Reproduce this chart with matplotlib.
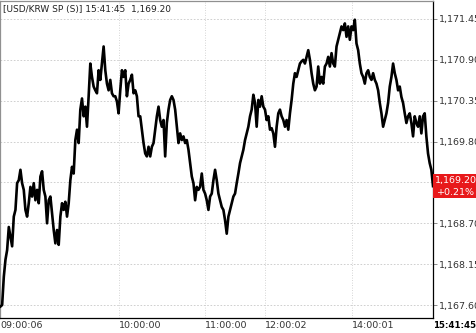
import matplotlib
matplotlib.use("Agg")
import matplotlib.pyplot as plt
from matplotlib.patches import Rectangle
import matplotlib.transforms as mtransforms
import numpy as np

# USD/KRW spot ticks (one value per ~1.7 px column)
morning = [
    1167.58, 1167.60, 1167.98, 1168.21, 1168.34, 1168.65, 1168.52, 1168.39, 1168.79, 1168.88,
    1169.24, 1169.28, 1169.42, 1169.24, 1169.15, 1168.88, 1168.79, 1168.97, 1169.19, 1169.06,
    1169.24, 1169.01, 1169.15, 1168.97, 1169.33, 1169.40, 1169.15, 1169.06, 1168.70, 1169.01,
    1169.06, 1168.83, 1168.61, 1168.43, 1168.61, 1168.41, 1168.79, 1168.97, 1168.88, 1168.99,
    1168.79, 1168.97, 1169.28, 1169.46, 1169.37, 1169.82, 1169.96, 1169.78, 1170.23, 1170.38,
    1170.14, 1170.27, 1170.00, 1170.41, 1170.85, 1170.67, 1170.54, 1170.49, 1170.45, 1170.76,
    1170.63, 1170.85, 1171.08, 1170.76, 1170.58, 1170.49, 1170.63, 1170.45, 1170.41, 1170.41,
    1170.34, 1170.18, 1170.49, 1170.76, 1170.67, 1170.76, 1170.41, 1170.58, 1170.63, 1170.70,
    1170.45, 1170.49, 1170.41, 1170.14,
]
midday = [
    1170.14, 1169.96, 1169.78, 1169.64, 1169.60, 1169.73, 1169.60, 1169.73, 1169.78, 1169.96,
    1170.14, 1170.27, 1170.09, 1170.00, 1170.09, 1169.60, 1170.05, 1170.23, 1170.36, 1170.41,
    1170.36, 1170.23, 1170.00, 1169.78, 1169.91, 1169.82, 1169.87, 1169.78, 1169.82, 1169.69,
    1169.51, 1169.33, 1169.24, 1169.01, 1169.19, 1169.15, 1169.19, 1169.37, 1169.15, 1169.10,
    1169.01, 1168.88, 1169.06, 1169.10, 1169.28, 1169.42, 1169.28, 1169.10, 1169.01, 1168.92,
    1168.88, 1168.74, 1168.56, 1168.79, 1168.88, 1168.97, 1169.06, 1169.10, 1169.24, 1169.37,
    1169.51, 1169.60, 1169.69, 1169.82, 1169.91, 1170.00, 1170.14, 1170.23, 1170.43, 1170.32,
    1170.00, 1170.36, 1170.27, 1170.41, 1170.27, 1170.23, 1170.09, 1170.14, 1169.96, 1169.98,
    1169.91, 1169.73, 1170.00, 1170.18,
]
afternoon = [
    1170.23, 1170.14, 1170.09, 1170.00, 1170.09, 1169.96, 1170.18, 1170.36, 1170.58, 1170.72,
    1170.67, 1170.76, 1170.85, 1170.88, 1170.90, 1170.85, 1170.94, 1171.03, 1170.90, 1170.72,
    1170.58, 1170.49, 1170.54, 1170.81, 1170.58, 1170.67, 1170.58, 1170.81, 1170.85, 1170.94,
    1170.81, 1170.99, 1170.85, 1170.81, 1171.08, 1171.17, 1171.26, 1171.35, 1171.30, 1171.39,
    1171.21, 1171.35, 1171.17, 1171.35, 1171.30, 1171.44, 1171.12, 1171.03, 1170.85, 1170.72,
    1170.67, 1170.58, 1170.72, 1170.76, 1170.67, 1170.63, 1170.72, 1170.63, 1170.58, 1170.49,
    1170.32, 1170.18, 1170.00, 1170.09, 1170.18, 1170.32, 1170.54, 1170.67, 1170.85, 1170.72,
    1170.63, 1170.49, 1170.54, 1170.40, 1170.32, 1170.18, 1170.05, 1170.14, 1170.18, 1170.05,
    1169.87, 1170.14, 1170.05, 1170.00, 1170.14, 1169.91, 1170.14, 1170.18, 1169.87, 1169.64,
    1169.51, 1169.42, 1169.20,
]

time_labels = ["09:00:06", "10:00:00", "11:00:00", "12:00:02", "14:00:01", "15:41:45"]
time_idx = [0, 71, 123, 159, 211, 260]   # sample index where each time falls
price_ticks = [1167.60, 1168.15, 1168.70, 1169.25, 1169.80, 1170.35, 1170.90, 1171.45]
change_pct = 0.21
title = "[USD/KRW SP (S)] 15:41:45  1,169.20"

prices = np.array(morning + midday + afternoon)
idx = np.arange(len(prices))
last = prices[-1]

plt.rcParams['font.family'] = ['DejaVu Sans']

fig = plt.figure(figsize=(4.77, 3.33), dpi=100)
ax = fig.add_axes([0.001, 0.045, 0.9068, 0.952])

ax.plot(idx, prices, color='black', lw=1.9, zorder=3)

ax.set_xlim(0, 260)
ax.set_ylim(1167.425, 1171.692)

# grid
for p in price_ticks:
    ax.axhline(p, color='#c8c8c8', lw=0.6, ls=(0, (2, 2)), zorder=1)
for t in time_idx[1:-1]:
    ax.axvline(t, color='#c8c8c8', lw=0.6, ls=(0, (1, 2)), zorder=1)

# spines
ax.spines['left'].set_color('#909090')
ax.spines['top'].set_color('#909090')
ax.spines['right'].set_color('black')
ax.spines['bottom'].set_color('black')
for s in ax.spines.values():
    s.set_linewidth(0.9)

# y axis on the right; the label under the last-price box is hidden
ax.yaxis.tick_right()
ax.set_yticks(price_ticks)
ax.set_yticklabels(["" if abs(p - last) < 0.2 else f"{p:,.2f}" for p in price_ticks])
ax.tick_params(axis='y', length=3, width=0.6, color='#777777', pad=1,
               labelsize=6.8, labelcolor='#333333')

# x axis
ax.set_xticks(time_idx)
ax.set_xticklabels(time_labels)
ax.tick_params(axis='x', length=0, pad=2.5, labelsize=6.8, labelcolor='#333333')
for lab in ax.get_xticklabels():
    lab.set_horizontalalignment('left')
ax.get_xticklabels()[-1].set_fontweight('bold')
ax.get_xticklabels()[-1].set_color('black')
ax.get_xticklabels()[-1].set_fontsize(6.2)

# title inside the plot
ax.text(0.006, 0.988, title, transform=ax.transAxes, ha='left', va='top',
        fontsize=6.5, color='#222222')

# last-price box on the right axis
trans = mtransforms.blended_transform_factory(ax.transAxes, ax.transData)
ax.add_patch(Rectangle((1.0, last - 0.16), 0.105, 0.32, transform=trans,
                       facecolor='#e8191b', edgecolor='none', clip_on=False, zorder=5))
ax.text(1.052, last + 0.075, f"{last:,.2f}", transform=trans, ha='center', va='center',
        fontsize=6.8, color='white', zorder=6, clip_on=False)
ax.text(1.052, last - 0.085, f"+{change_pct:.2f}%", transform=trans, ha='center', va='center',
        fontsize=6.8, color='white', zorder=6, clip_on=False)

fig.savefig("out.png", dpi=100)
